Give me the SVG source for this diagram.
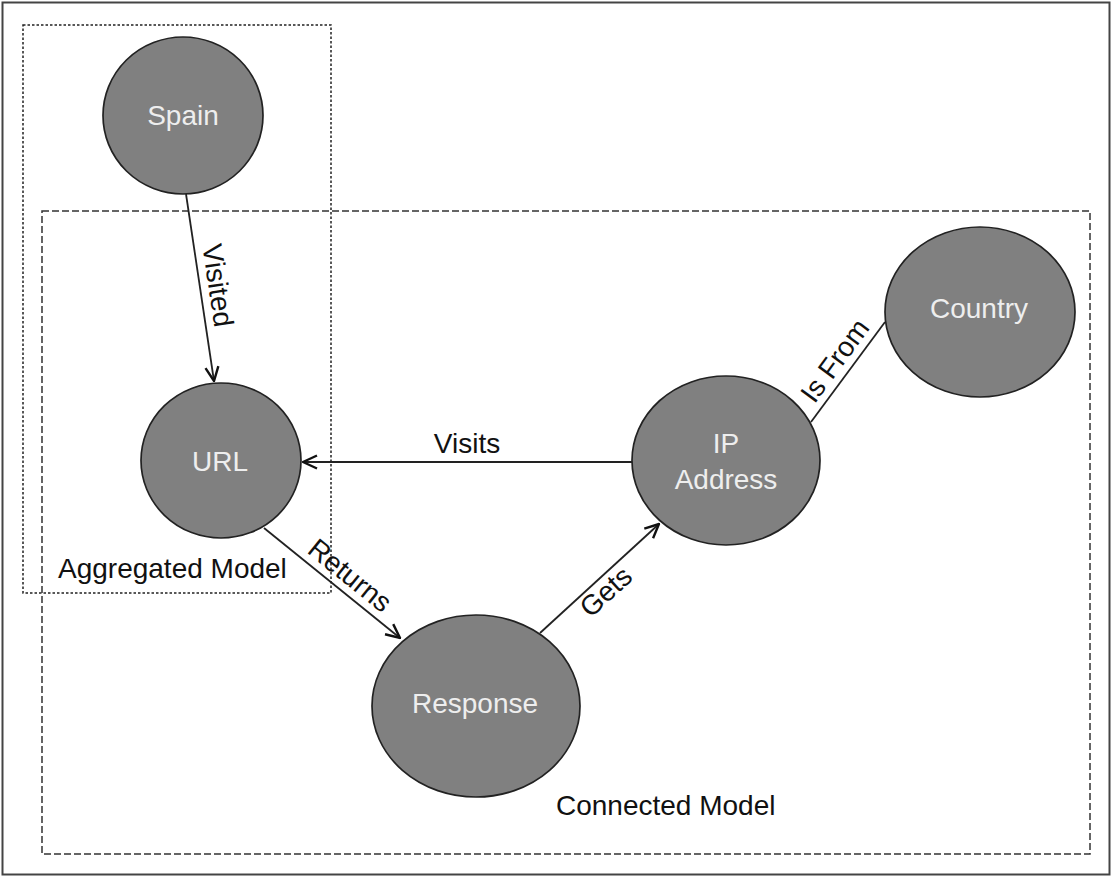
<svg xmlns="http://www.w3.org/2000/svg" width="1113" height="877" viewBox="0 0 1113 877">
  <defs>
    <marker id="arrow" viewBox="0 0 16 16" refX="15" refY="8" markerWidth="16" markerHeight="16" markerUnits="userSpaceOnUse" orient="auto">
      <path d="M1,1.5 L15,8 L1,14.5" fill="none" stroke="#111" stroke-width="2.4"/>
    </marker>
  </defs>
  <style>
    .node ellipse { fill: #808080; stroke: #222; stroke-width: 1.7; }
    .node text { fill: #eeeeee; font-family: "Liberation Sans", Arial, sans-serif; font-size: 28px; text-anchor: middle; }
    .edge { stroke: #222; stroke-width: 1.8; fill: none; }
    .lbl { fill: #111; font-family: "Liberation Sans", Arial, sans-serif; font-size: 28px; text-anchor: middle; }
    .box-text { fill: #111; font-family: "Liberation Sans", Arial, sans-serif; font-size: 28px; }
  </style>
  <rect x="0" y="0" width="1113" height="877" fill="#ffffff"/>
  <rect x="2.5" y="2.5" width="1107" height="872" fill="none" stroke="#444" stroke-width="2"/>

  <g id="aggregated-model">
    <rect x="23" y="25" width="308" height="568" fill="none" stroke="#222" stroke-width="1.5" stroke-dasharray="2.5,2"/>
    <text class="box-text" x="58" y="578">Aggregated Model</text>
  </g>
  <g id="connected-model">
    <rect x="42" y="211" width="1048" height="643" fill="none" stroke="#333" stroke-width="1.5" stroke-dasharray="7,3"/>
    <text class="box-text" x="556" y="815">Connected Model</text>
  </g>

  <g id="connectors">
    <line class="edge" x1="186" y1="194" x2="214" y2="381" marker-end="url(#arrow)"/>
    <text class="lbl" transform="translate(200.5,288) rotate(81.4)" x="0" y="-8">Visited</text>

    <line class="edge" x1="632" y1="462" x2="303" y2="462" marker-end="url(#arrow)"/>
    <text class="lbl" x="467" y="453">Visits</text>

    <line class="edge" x1="264" y1="528" x2="400" y2="638" marker-end="url(#arrow)"/>
    <text class="lbl" transform="translate(339,589) rotate(38.9)" x="0" y="-8">Returns</text>

    <line class="edge" x1="540" y1="633" x2="659" y2="524" marker-end="url(#arrow)"/>
    <text class="lbl" transform="translate(596,581) rotate(-42.5)" x="0" y="24">Gets</text>

    <line class="edge" x1="811" y1="422" x2="885" y2="322"/>
    <text class="lbl" transform="translate(849,371) rotate(-53.8)" x="0" y="-8">Is From</text>
  </g>

  <g id="node-spain" class="node">
    <ellipse cx="183" cy="115.5" rx="80" ry="78.5"/>
    <text x="183" y="125">Spain</text>
  </g>
  <g id="node-url" class="node">
    <ellipse cx="221" cy="460.5" rx="80" ry="77.5"/>
    <text x="220" y="471">URL</text>
  </g>
  <g id="node-ip" class="node">
    <ellipse cx="726" cy="460.5" rx="94" ry="84.5"/>
    <text x="726" y="453">IP</text>
    <text x="726" y="489">Address</text>
  </g>
  <g id="node-country" class="node">
    <ellipse cx="980" cy="312" rx="95" ry="85"/>
    <text x="979" y="318">Country</text>
  </g>
  <g id="node-response" class="node">
    <ellipse cx="476" cy="706" rx="104" ry="91"/>
    <text x="475" y="713">Response</text>
  </g>
</svg>
